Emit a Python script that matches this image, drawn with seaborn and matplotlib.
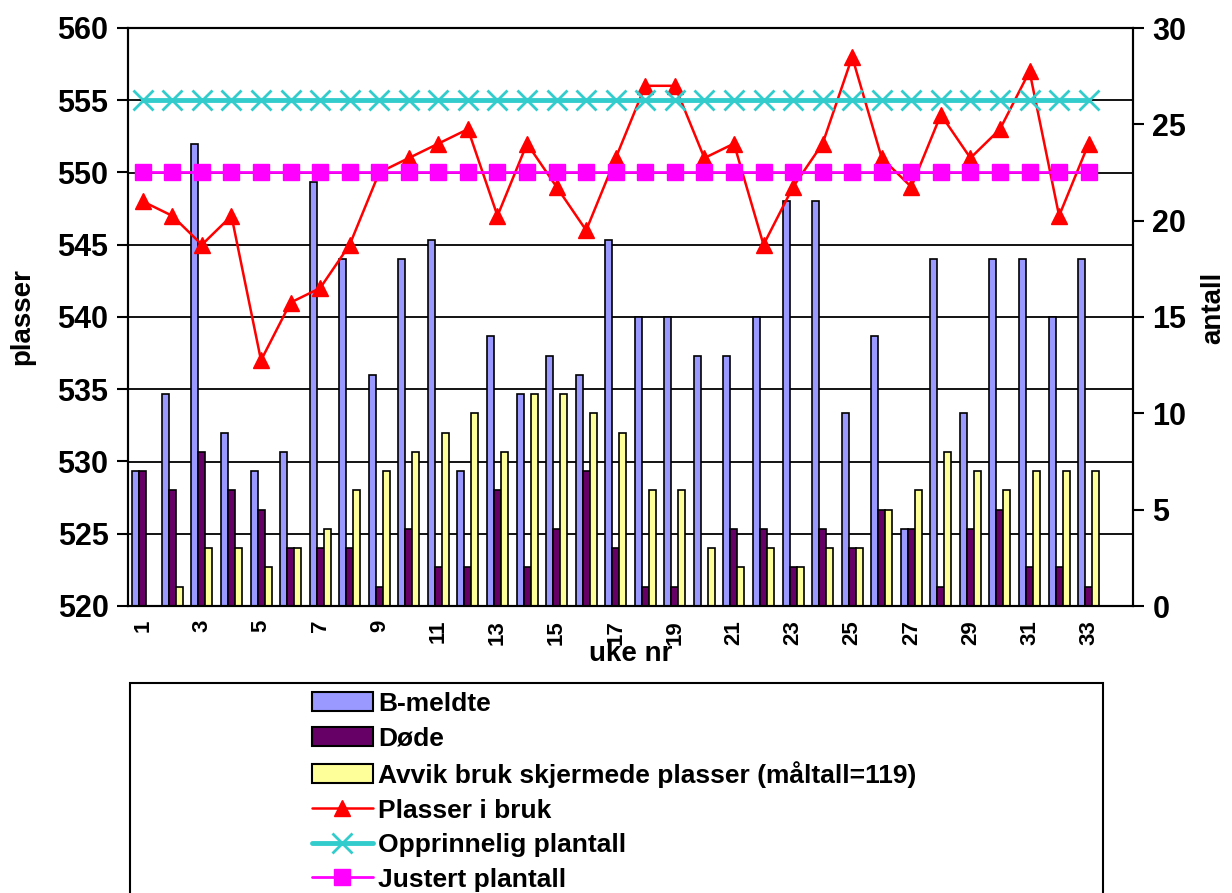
import matplotlib
matplotlib.use("Agg")
import matplotlib.pyplot as plt
from matplotlib.lines import Line2D
from matplotlib.patches import Patch, Rectangle
import numpy as np
import pandas as pd
import seaborn as sns

# uke 1-33 med data, uke 34 tom
weeks = list(range(1, 35))
data_weeks = list(range(1, 34))
b_meldte = [7, 11, 24, 9, 7, 8, 22, 18, 12, 18, 19, 7, 14, 11, 13, 12, 19, 15, 15, 13,
            13, 15, 21, 21, 10, 14, 4, 18, 10, 18, 18, 15, 18]
dode = [7, 6, 8, 6, 5, 3, 3, 3, 1, 4, 2, 2, 6, 2, 4, 7, 3, 1, 1, 0,
        4, 4, 2, 4, 3, 5, 4, 1, 4, 5, 2, 2, 1]
avvik = [0, 1, 3, 3, 2, 3, 4, 6, 7, 8, 9, 10, 8, 11, 11, 10, 9, 6, 6, 3,
         2, 3, 2, 3, 3, 5, 6, 8, 7, 6, 7, 7, 7]
plasser_i_bruk = [548, 547, 545, 547, 537, 541, 542, 545, 550, 551, 552, 553, 547, 552, 549, 546, 551, 556, 556, 551,
                  552, 545, 549, 552, 558, 551, 549, 554, 551, 553, 557, 547, 552]
opprinnelig = [555] * 33
justert = [550] * 33

bar_labels = ["B-meldte", "Døde", "Avvik bruk skjermede plasser (måltall=119)"]
bar_colors = ["#9999FF", "#660066", "#FFFF99"]

sns.set_style("white")
plt.rcParams["font.family"] = ["Liberation Sans", "DejaVu Sans"]
plt.rcParams["font.weight"] = "bold"
plt.rcParams["text.color"] = "black"
plt.rcParams["axes.labelcolor"] = "black"
plt.rcParams["xtick.color"] = "black"
plt.rcParams["ytick.color"] = "black"

df = pd.DataFrame({"uke": data_weeks, bar_labels[0]: b_meldte,
                   bar_labels[1]: dode, bar_labels[2]: avvik})
df_long = df.melt(id_vars="uke", var_name="serie", value_name="antall")

fig = plt.figure(figsize=(12.32, 8.93), dpi=100)
ax = fig.add_axes([128 / 1232, 1 - 606 / 893, 1005 / 1232, 578 / 893])
axb = ax.twinx()
ax.set_zorder(axb.get_zorder() + 1)
ax.patch.set_visible(False)

# stolper på høyre akse
sns.barplot(data=df_long, x="uke", y="antall", hue="serie", order=weeks,
            hue_order=bar_labels, palette=dict(zip(bar_labels, bar_colors)),
            saturation=1, width=0.71, gap=0, edgecolor="black", linewidth=1.2,
            errorbar=None, legend=False, ax=axb)

# linjer på venstre akse
sns.pointplot(x=data_weeks, y=plasser_i_bruk, order=weeks, color="#FF0000", markers="^",
              markersize=12, linewidth=1.8, markeredgewidth=1, errorbar=None, ax=ax)
sns.pointplot(x=data_weeks, y=opprinnelig, order=weeks, color="#33CCCC", markers="x",
              markersize=14, linewidth=3.5, markeredgewidth=2, errorbar=None, ax=ax)
sns.pointplot(x=data_weeks, y=justert, order=weeks, color="#FF00FF", markers="s",
              markersize=11, linewidth=2, markeredgewidth=1, errorbar=None, ax=ax)

ax.set_ylim(520, 560)
ax.set_yticks(range(520, 561, 5))
axb.set_ylim(0, 30)
axb.set_yticks(range(0, 31, 5))
ax.set_xlim(-0.5, len(weeks) - 0.5)

# rutenett bak stolpene
for v in ax.get_yticks():
    axb.axhline((v - 520) * 30 / 40, color="black", lw=1.3, zorder=0.5)

ax.set_xticks(range(len(weeks)))
ax.set_xticklabels([str(w) if w % 2 == 1 else "" for w in weeks])
ax.set_xticks(np.arange(-0.5, len(weeks), 1), minor=True)
ax.tick_params(axis="x", which="major", length=0, rotation=90, labelsize=16, pad=10)
ax.tick_params(axis="x", which="minor", length=7, width=1.5, direction="out")
ax.tick_params(axis="y", length=8, width=1.5, labelsize=22, pad=6)
axb.tick_params(axis="y", length=8, width=1.5, labelsize=22, pad=6)

for a in (ax, axb):
    for s in a.spines.values():
        s.set_linewidth(1.5)
        s.set_color("black")

ax.set_xlabel("uke nr", fontsize=20, fontweight="bold")
ax.xaxis.set_label_coords(0.5, -0.06)
ax.set_ylabel("plasser", fontsize=20, fontweight="bold")
ax.yaxis.set_label_coords(-0.092, 0.5)
axb.set_ylabel("antall", fontsize=20, fontweight="bold")
axb.yaxis.set_label_coords(1.067, 0.516)

handles = [Patch(facecolor=c, edgecolor="black", linewidth=1.5) for c in bar_colors]
handles += [
    Line2D([], [], color="#FF0000", marker="^", markersize=12, linewidth=1.8),
    Line2D([], [], color="#33CCCC", marker="x", markersize=14, markeredgewidth=2, linewidth=3.5),
    Line2D([], [], color="#FF00FF", marker="s", markersize=11, linewidth=2),
]
labels = bar_labels + ["Plasser i bruk", "Opprinnelig plantall", "Justert plantall"]

fig.add_artist(Rectangle((130 / 1232, -0.1), 973 / 1232, 1 - 683 / 893 + 0.1,
                         transform=fig.transFigure, fill=False, edgecolor="black", linewidth=1.5))
fig.legend(handles, labels, loc="upper left", bbox_to_anchor=(312 / 1232, 1 - 692 / 893),
           frameon=False, prop={"size": 19, "weight": "bold"}, handlelength=2.3,
           handleheight=0.75, handletextpad=0.2, labelspacing=0.4, borderpad=0, borderaxespad=0)

fig.savefig("out.png", dpi=100)
